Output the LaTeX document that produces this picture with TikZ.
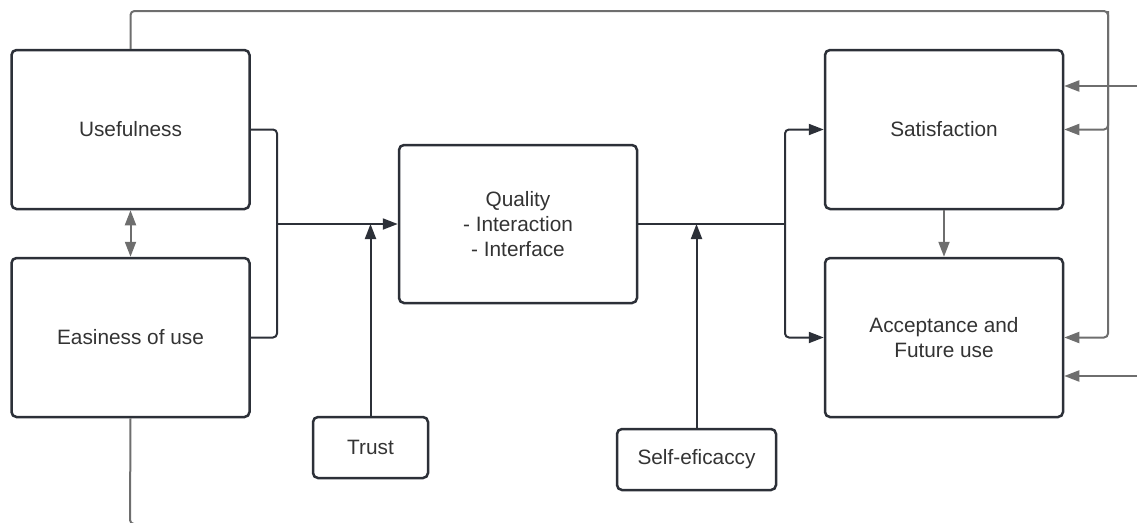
\documentclass[tikz,border=0pt]{standalone}
\usepackage{fontspec}
\setmainfont{Liberation Sans}
\usetikzlibrary{arrows.meta}
\definecolor{boxc}{HTML}{2C3038}
\definecolor{darkc}{HTML}{2C3038}
\definecolor{grayc}{HTML}{6E6E6E}
\definecolor{textc}{HTML}{333333}
\begin{document}
\begin{tikzpicture}[x=1pt,y=-1pt,
  box/.style={draw=boxc, line width=2.5pt, rounded corners=5pt, align=center,
    text=textc, font=\fontsize{20.8}{25}\selectfont, inner sep=0pt},
  bigbox/.style={box, minimum width=238pt, minimum height=159pt},
  smallbox/.style={box, minimum height=61pt},
  darkline/.style={draw=darkc, line width=2pt, rounded corners=4pt},
  grayline/.style={draw=grayc, line width=2pt, rounded corners=4pt},
  darkarrow/.style={darkline, -{Triangle[length=15pt,width=11pt]}},
  grayarrow/.style={grayline, -{Triangle[length=15pt,width=11pt]}},
]
\useasboundingbox (0,0) rectangle (1137,522);
\clip (0,0) rectangle (1137,522);

\node[bigbox] (use) at (130.5,129.5) {Usefulness};
\node[bigbox] (eas) at (130.5,337.5) {Easiness of use};
\node[smallbox, minimum width=115pt] (trust) at (370.5,447.5) {Trust};
\node[bigbox, minimum height=158pt] (qual) at (518,224) {Quality\\- Interaction\\- Interface};
\node[smallbox, minimum width=159pt] (self) at (696.5,459.5) {Self-eficaccy};
\node[bigbox] (sat) at (944,129.5) {Satisfaction};
\node[bigbox] (acc) at (944,337.5) {Acceptance and\\Future use};

\coordinate (j1) at (277,224);
\coordinate (j2) at (785,224);
\coordinate (tr) at (1108,11);
\coordinate (r1) at (1150,86);
\coordinate (r2) at (1150,376);
\coordinate (bl) at (130,524);
\coordinate (br) at (260,524);

% left merge into Quality
\draw[darkline] (use.east) -| (j1);
\draw[darkline] (eas.east) -| (j1);
\draw[darkarrow] (j1) -- (qual.west);
\draw[darkarrow] (trust.north) -- (trust.north |- qual.west);

% Quality split
\draw[darkline] (qual.east) -- (j2);
\draw[darkarrow] (j2) |- (sat.west);
\draw[darkarrow] (j2) |- (acc.west);
\draw[darkarrow] (self.north) -- (self.north |- qual.east);

% gray connectors
\draw[grayline, {Triangle[length=15pt,width=11pt]}-{Triangle[length=15pt,width=11pt]}] (use.south) -- (eas.north);
\draw[grayarrow] (sat.south) -- (acc.north);
\draw[grayarrow] (use.north) |- (tr) |- (sat.east);
\draw[grayarrow] (tr) |- (acc.east);
\draw[grayarrow] (r1) -- (sat.east |- r1);
\draw[grayarrow] (r2) -- (acc.east |- r2);
\draw[grayline] (eas.south) -- (bl) -- (br);
\end{tikzpicture}
\end{document}
